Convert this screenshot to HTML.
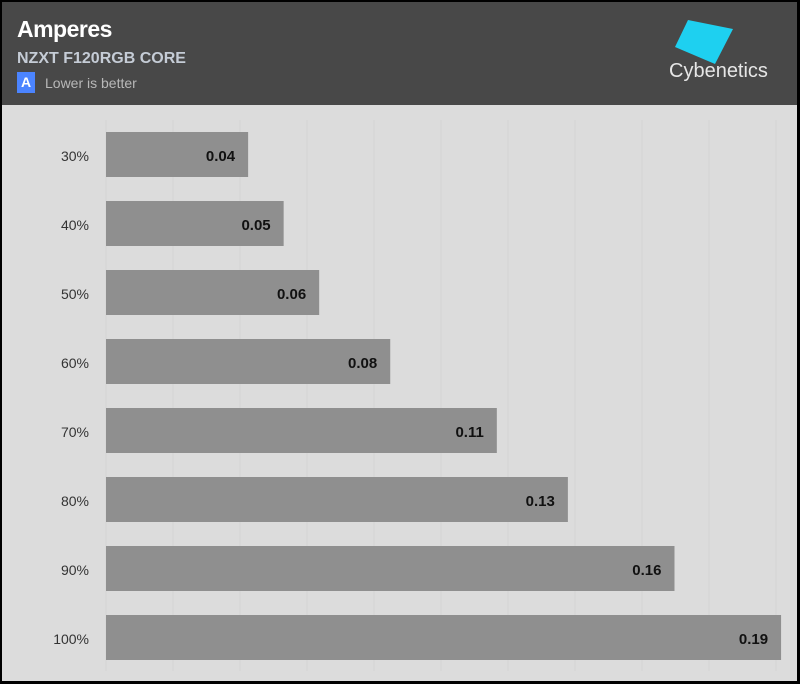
<!DOCTYPE html>
<html><head><meta charset="utf-8"><style>
body{margin:0;width:800px;height:684px;overflow:hidden;background:#000;font-family:"Liberation Sans",sans-serif}
#frame{position:absolute;left:2px;top:2px;width:795px;height:679px;background:#dcdcdc;overflow:hidden}
#hdr{position:absolute;left:0;top:0;width:795px;height:103px;background:#484848}
.t{position:absolute;white-space:nowrap}
</style></head><body>
<div id="frame">
<div id="hdr">
<div class="t" style="left:15px;top:14px;color:#fff;font-size:23px;font-weight:bold;letter-spacing:-0.5px">Amperes</div>
<div class="t" style="left:15px;top:48px;color:#c5ccd6;font-size:16px;font-weight:bold">NZXT F120RGB CORE</div>
<div class="t" style="left:15px;top:70px;width:18px;height:21px;background:#4b84ff;color:#fff;font-size:14px;font-weight:bold;text-align:center;line-height:21px">A</div>
<div class="t" style="left:43px;top:73px;color:#b8b8b8;font-size:14px">Lower is better</div>
<svg class="t" style="left:665px;top:16px" width="70" height="50"><polygon points="21,2 66,11 48,46 8,29" fill="#1ed0f0"/></svg>
<div class="t" style="left:667px;top:58px;color:#e6e6e6;font-size:20px">Cybenetics</div>
</div>
<svg id="plot" width="795" height="679" style="position:absolute;left:0;top:0"></svg>
</div>
<script>
const categories=["30%","40%","50%","60%","70%","80%","90%","100%"];
const values=[0.04,0.05,0.06,0.08,0.11,0.13,0.16,0.19];
const labels=["0.04","0.05","0.06","0.08","0.11","0.13","0.16","0.19"];
const gridTicks=[0,1,2,3,4,5,6,7,8,9,10];
const svg=document.getElementById('plot');const NS='http://www.w3.org/2000/svg';
const X0=104,PX=3553;
function x(v){return X0+v*PX;}
function y(i){return 130+i*69;}
function mk(t,a){const e=document.createElementNS(NS,t);for(const k in a)e.setAttribute(k,a[k]);svg.appendChild(e);return e;}
gridTicks.forEach(g=>{const l=mk('line',{x1:X0+g*67,x2:X0+g*67,y1:118,y2:669,stroke:'#d4d4d4','stroke-width':1});

});
categories.forEach((c,i)=>{
const r=mk('rect',{x:X0,y:y(i),width:values[i]*PX,height:45,fill:'#8f8f8f'});


const t=mk('text',{x:X0-17,y:y(i)+29,'text-anchor':'end','font-size':14,fill:'#333'});t.textContent=c;


const v=mk('text',{x:x(values[i])-13,y:y(i)+29,'text-anchor':'end','font-size':15,'font-weight':'bold',fill:'#111'});v.textContent=labels[i];


});
</script>
</body></html>
